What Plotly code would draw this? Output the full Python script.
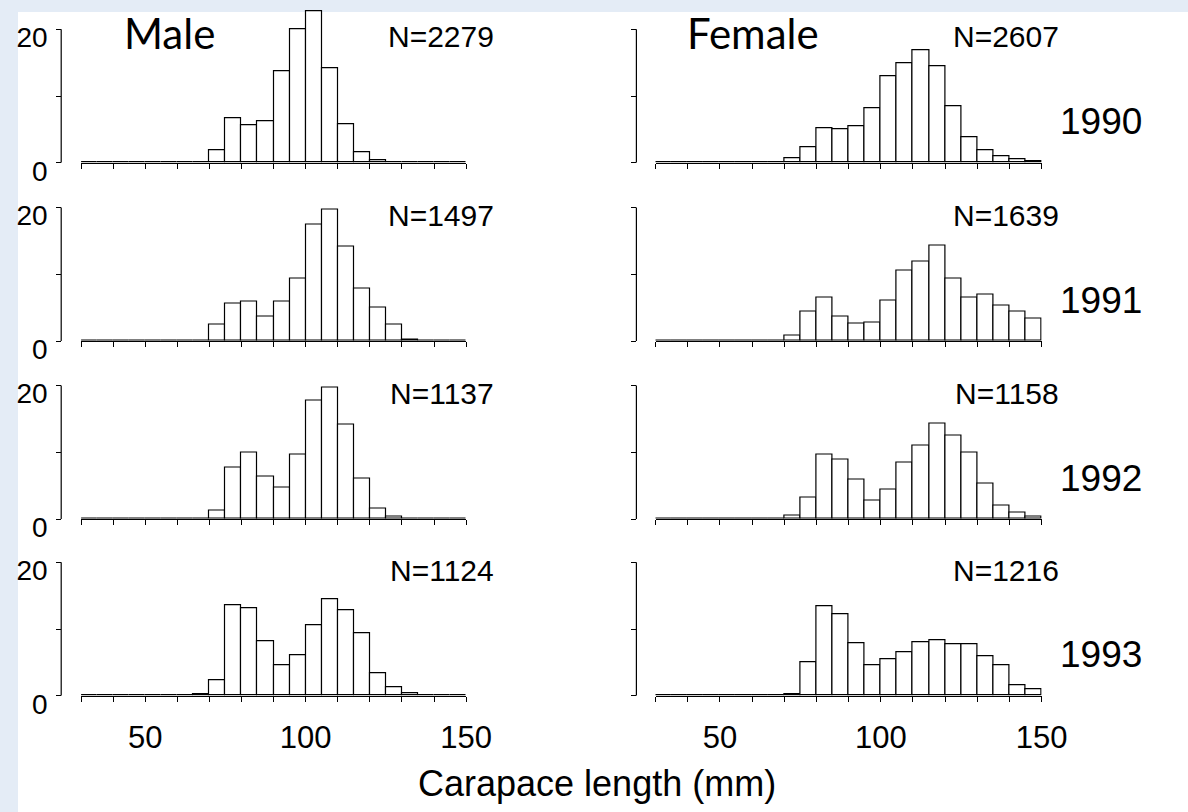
import plotly.graph_objects as go

# ---------------- data ----------------
bin_centers = [32.5, 37.5, 42.5, 47.5, 52.5, 57.5, 62.5, 67.5, 72.5, 77.5, 82.5, 87.5,
               92.5, 97.5, 102.5, 107.5, 112.5, 117.5, 122.5, 127.5, 132.5, 137.5, 142.5, 147.5]
bin_width = 5

years = ["1990", "1991", "1992", "1993"]
male_n = ["N=2279", "N=1497", "N=1137", "N=1124"]
female_n = ["N=2607", "N=1639", "N=1158", "N=1216"]

male_1990 = [0, 0, 0, 0, 0, 0, 0, 0.1, 1.9, 6.6, 5.55, 6.2, 13.75, 20.0, 22.7, 14.15, 5.8, 1.6, 0.35, 0, 0, 0, 0, 0]
female_1990 = [0, 0, 0, 0, 0, 0, 0, 0, 0.6, 2.35, 5.2, 5.0, 5.45, 8.2, 13.0, 14.9, 16.9, 14.5, 8.4, 3.8, 1.85, 0.95, 0.45, 0.2]
male_1991 = [0, 0, 0, 0, 0, 0, 0, 0.1, 2.4, 5.65, 5.85, 3.65, 5.9, 9.4, 17.4, 19.75, 14.15, 7.85, 4.95, 2.45, 0.15, 0, 0.1, 0]
female_1991 = [0, 0, 0, 0, 0, 0, 0, 0, 0.8, 4.35, 6.5, 3.7, 2.6, 2.75, 6.1, 10.5, 11.95, 14.3, 9.35, 6.55, 6.9, 5.35, 4.4, 3.35]
male_1992 = [0.05, 0.05, 0.05, 0.05, 0.05, 0.05, 0.05, 0.05, 1.3, 7.75, 10.0, 6.3, 4.7, 9.7, 17.75, 19.7, 14.2, 6.05, 1.6, 0.35, 0.05, 0.05, 0.05, 0.05]
female_1992 = [0, 0, 0, 0, 0, 0, 0, 0, 0.45, 3.2, 9.7, 8.85, 5.9, 2.7, 4.35, 8.45, 10.95, 14.25, 12.45, 9.9, 5.3, 1.95, 0.95, 0.4]
male_1993 = [0, 0, 0, 0, 0, 0, 0, 0.2, 2.3, 13.55, 13.05, 8.1, 4.5, 6.05, 10.5, 14.45, 12.75, 9.4, 3.4, 1.25, 0.35, 0, 0, 0]
female_1993 = [0, 0, 0, 0, 0, 0, 0, 0, 0.2, 5.05, 13.45, 12.2, 7.9, 4.55, 5.5, 6.45, 7.95, 8.3, 7.65, 7.75, 5.9, 4.6, 1.5, 1.0]

male_series = [male_1990, male_1991, male_1992, male_1993]
female_series = [female_1990, female_1991, female_1992, female_1993]

x_tickvals = [30, 40, 50, 60, 70, 80, 90, 100, 110, 120, 130, 140, 150]
x_ticklabels = ["", "", "50", "", "", "", "", "100", "", "", "", "", "150"]
y_tickvals = [0, 10, 20]
y_ticklabels = ["0", "", "20"]

# ---------------- layout geometry (pixels) ----------------
W, H = 1188, 812
baselines = [162.7, 341.0, 519.0, 695.7]   # px of y=0 per row
unit_px = 6.67                              # px per percent
y_top = 23.0
x_dom = {0: (81.1, 466.1), 1: (655.5, 1041.7)}
y_pos = {0: 61.2, 1: 636.4}
n_right = {0: 496.0, 1: 1061.0}

SANS = "Liberation Sans, Arial, sans-serif"

fig = go.Figure()
layout = dict(width=W, height=H,
              margin=dict(l=0, r=0, t=0, b=0, pad=0, autoexpand=False),
              paper_bgcolor="#e4ecf6", plot_bgcolor="rgba(0,0,0,0)",
              showlegend=False, bargap=0)
shapes = [dict(type="rect", xref="paper", yref="paper", x0=18 / W, x1=1.0, y0=0, y1=1 - 12 / H,
               fillcolor="white", line=dict(width=0), layer="below")]
annotations = []


def px(xp):
    return xp / W


def py(yp):
    return 1 - yp / H


for r in range(4):
    for c in range(2):
        i = r * 2 + c + 1
        xa = "x" if i == 1 else f"x{i}"
        ya = "y" if i == 1 else f"y{i}"
        vals = male_series[r] if c == 0 else female_series[r]
        fig.add_trace(go.Bar(x=bin_centers, y=vals, width=bin_width, xaxis=xa, yaxis=ya,
                             marker=dict(color="white", line=dict(color="black", width=1.2)),
                             hoverinfo="x+y"))
        b = baselines[r]
        top = b - y_top * unit_px
        x0, x1 = x_dom[c]
        layout[f"xaxis{'' if i == 1 else i}"] = dict(
            domain=[px(x0), px(x1)], range=[30, 150], anchor=ya, automargin=False,
            showgrid=False, zeroline=False, showline=True, linecolor="black", linewidth=1.2,
            ticks="outside", ticklen=5, tickwidth=1.2, tickcolor="black",
            tickvals=x_tickvals,
            ticktext=x_ticklabels if r == 3 else [""] * len(x_tickvals),
            tickfont=dict(family=SANS, size=31, color="black"),
            ticklabelstandoff=9)
        layout[f"yaxis{'' if i == 1 else i}"] = dict(
            domain=[py(b), py(top)], range=[0, y_top], anchor="free", automargin=False,
            position=px(y_pos[c]),
            showgrid=False, zeroline=False, showline=False,
            ticks="outside", ticklen=5, tickwidth=1.2, tickcolor="black",
            tickvals=y_tickvals,
            ticktext=y_ticklabels if c == 0 else [""] * 3,
            tickfont=dict(family=SANS, size=28, color="black"),
            ticklabelstandoff=3, ticklabelshift=8)
        shapes.append(dict(type="line", xref="paper", yref=ya,
                           x0=px(y_pos[c]), x1=px(y_pos[c]), y0=0, y1=20,
                           line=dict(color="black", width=1.2)))
        # sample size
        annotations.append(dict(xref="paper", yref="paper", x=px(n_right[c]), y=py(b - 125.7),
                                text=(male_n if c == 0 else female_n)[r],
                                xanchor="right", yanchor="middle", showarrow=False,
                                font=dict(family=SANS, size=30, color="black")))
        if c == 1:
            annotations.append(dict(xref="paper", yref="paper", x=px(1101), y=py(b - 41),
                                    text=years[r],
                                    xanchor="center", yanchor="middle", showarrow=False,
                                    font=dict(family=SANS, size=37, color="black")))

annotations.append(dict(xref="paper", yref="paper", x=px(170), y=py(33), text="Male",
                        xanchor="center", yanchor="middle", showarrow=False,
                        font=dict(family="Lato, Carlito, sans-serif", size=42, color="black")))
annotations.append(dict(xref="paper", yref="paper", x=px(752.5), y=py(33), text="Female",
                        xanchor="center", yanchor="middle", showarrow=False,
                        font=dict(family="Lato, Carlito, sans-serif", size=42, color="black")))
annotations.append(dict(xref="paper", yref="paper", x=px(597), y=py(783),
                        text="Carapace length (mm)",
                        xanchor="center", yanchor="middle", showarrow=False,
                        font=dict(family=SANS, size=36, color="black")))

layout["shapes"] = shapes
layout["annotations"] = annotations
fig.update_layout(**layout)
fig.write_html("out.html")
